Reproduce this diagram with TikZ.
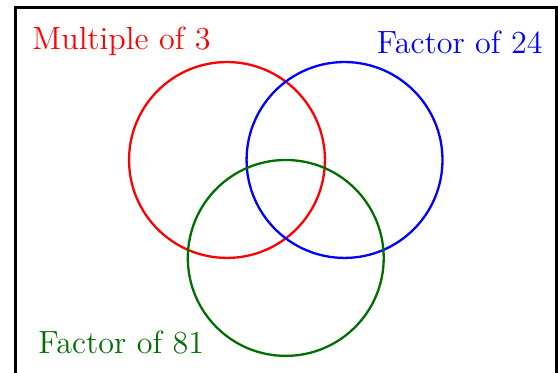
\documentclass[tikz,border=0pt]{standalone}
\usepackage{xcolor}
\usepackage{tikz}
\definecolor{vennred}{RGB}{255, 0, 0}
\definecolor{vennblue}{RGB}{0, 0, 255}
\definecolor{venngreen}{RGB}{0, 110, 0}

\begin{document}
\begin{tikzpicture}[
    set/.style={draw,circle,line width=1pt,minimum size=3cm,inner sep=0pt},
    setlabel/.style={font=\fontsize{14}{17}\selectfont,inner sep=0pt}
  ]
  \useasboundingbox (-3.476,-3.262) rectangle (5.069,2.45);
  % Frame
  \draw[line width=1.3pt] (-3.24,-3.6) rectangle (5.04,2.33);

  % Sets
  \node[set,vennred] (mult3) at (0,0) {};
  \node[set,vennblue] (fac24) at (1.8,0) {};
  \node[set,venngreen] (fac81) at (0.9,-1.5) {};

  % Labels
  \node[setlabel,vennred,anchor=base west] (lmult3) at (-2.986,1.685) {Multiple of 3};
  \node[setlabel,vennblue,anchor=base east] (lfac24) at (4.839,1.623) {Factor of 24};
  \node[setlabel,venngreen,anchor=base west] (lfac81) at (-2.894,-2.971) {Factor of 81};
\end{tikzpicture}
\end{document}
